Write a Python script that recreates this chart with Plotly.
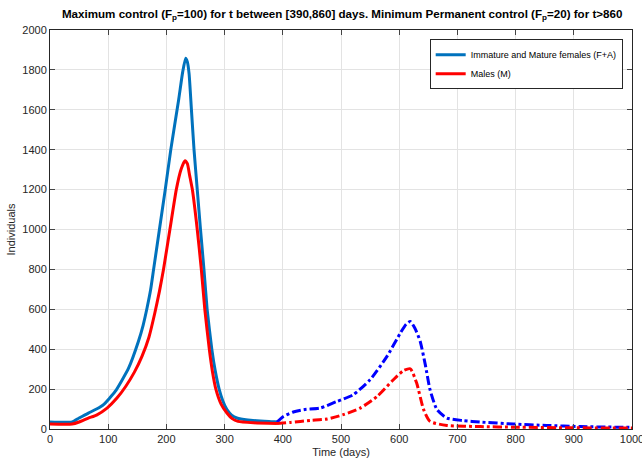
import plotly.graph_objects as go

# Phase 1 (solid, t in [0,390])
t_pre_f = [0, 38, 50, 66, 80, 92, 112, 135, 152, 160, 167, 173, 178, 188, 198, 207.5, 221, 228, 233, 236, 239, 243, 247.5, 253, 258.6, 264.5, 270, 278, 284, 290.6, 297, 304, 312, 321, 340, 386, 390]
v_pre_f = [35, 35, 55, 80, 100, 122, 188, 305, 440, 520, 610, 700, 800, 1000, 1200, 1399, 1649, 1790, 1858, 1840, 1780, 1600, 1399, 1200, 1000, 800, 600, 400, 290, 200, 140, 97, 70, 55, 45, 36, 35]

t_pre_m = [0, 38, 50, 66, 80, 98, 115, 130, 145, 158, 170, 180, 188, 195, 206, 217, 225, 232, 236, 240, 244.6, 253, 260, 266, 273.7, 279, 285, 294, 304, 313, 323, 350, 390]
v_pre_m = [25, 25, 35, 55, 70, 105, 155, 213, 285, 364, 460, 580, 690, 800, 1000, 1200, 1300, 1345, 1330, 1270, 1200, 1000, 800, 600, 400, 290, 200, 125, 80, 52, 38, 31, 27]

# Phase 2 (dash-dot, t in [390,1000])
t_post_f = [390, 401, 418, 436, 464, 493, 521, 550, 579, 602, 612, 619, 627, 636, 645, 653, 665, 682, 710, 739, 796, 853, 911, 1000]
v_post_f = [35, 63, 85, 97, 105, 138, 172, 247, 364, 481, 525, 539, 505, 440, 320, 197, 97, 55, 42, 35, 25, 18, 12, 8]

t_post_m = [390, 413, 447, 476, 504, 533, 562, 590, 607, 619, 630, 642, 653, 682, 739, 800, 900, 1000]
v_post_m = [27, 33, 43, 50, 72, 105, 163, 247, 292, 302, 230, 97, 38, 18, 12, 9, 6, 5]

label_f = "Immature and Mature females (F+A)"
label_m = "Males (M)"

x_ticks = [0, 100, 200, 300, 400, 500, 600, 700, 800, 900, 1000]
y_ticks = [0, 200, 400, 600, 800, 1000, 1200, 1400, 1600, 1800, 2000]

FONT = "Liberation Sans, Arial, sans-serif"
AX = "#262626"

fig = go.Figure()
fig.add_trace(go.Scatter(x=t_pre_f, y=v_pre_f, mode="lines", name=label_f,
                         line=dict(color="#0072BD", width=3, shape="spline", smoothing=0.5)))
fig.add_trace(go.Scatter(x=t_pre_m, y=v_pre_m, mode="lines", name=label_m,
                         line=dict(color="#FF0000", width=3, shape="spline", smoothing=0.5)))
fig.add_trace(go.Scatter(x=t_post_f, y=v_post_f, mode="lines", showlegend=False,
                         line=dict(color="#0000FF", width=3, dash="dashdot", shape="spline", smoothing=0.6)))
fig.add_trace(go.Scatter(x=t_post_m, y=v_post_m, mode="lines", showlegend=False,
                         line=dict(color="#FF0000", width=3, dash="dashdot", shape="spline", smoothing=0.6)))

fig.update_layout(
    width=642, height=462,
    margin=dict(l=50, r=10, t=30, b=33),
    paper_bgcolor="white", plot_bgcolor="white",
    font=dict(family=FONT, size=11, color=AX),
    title=dict(text="<b>Maximum control (F<sub>p</sub>=100) for t between [390,860] days. Minimum Permanent control (F<sub>p</sub>=20) for t>860</b>",
               x=0.533, xanchor="center", y=0.97, yanchor="middle",
               font=dict(family=FONT, size=11.6, color="black")),
    legend=dict(x=0.984, xanchor="right", y=0.977, yanchor="top",
                bgcolor="white", bordercolor="#262626", borderwidth=1,
                font=dict(family=FONT, size=9, color="black"),
                tracegroupgap=0, itemwidth=30),
    showlegend=True,
)
fig.update_xaxes(range=[0, 1000], tickvals=x_ticks, ticks="inside", ticklen=5,
                 showline=True, linecolor=AX, linewidth=1, mirror="ticks",
                 showgrid=True, gridcolor="#e3e3e3", gridwidth=1, zeroline=False,
                 automargin=False, ticklabeloverflow="allow",
                 title=dict(text="Time (days)", standoff=4, font=dict(size=11)),
                 tickfont=dict(size=11, color=AX))
fig.update_yaxes(range=[0, 2000], tickvals=y_ticks, ticks="inside", ticklen=5,
                 showline=True, linecolor=AX, linewidth=1, mirror="ticks",
                 showgrid=True, gridcolor="#e3e3e3", gridwidth=1, zeroline=False,
                 automargin=False, ticklabeloverflow="allow",
                 title=dict(text="Individuals", standoff=4, font=dict(size=11)),
                 tickfont=dict(size=11, color=AX))

fig.write_html("out.html", config={"displayModeBar": False},
               post_script="document.body.style.margin='0';document.body.style.overflow='hidden';")
